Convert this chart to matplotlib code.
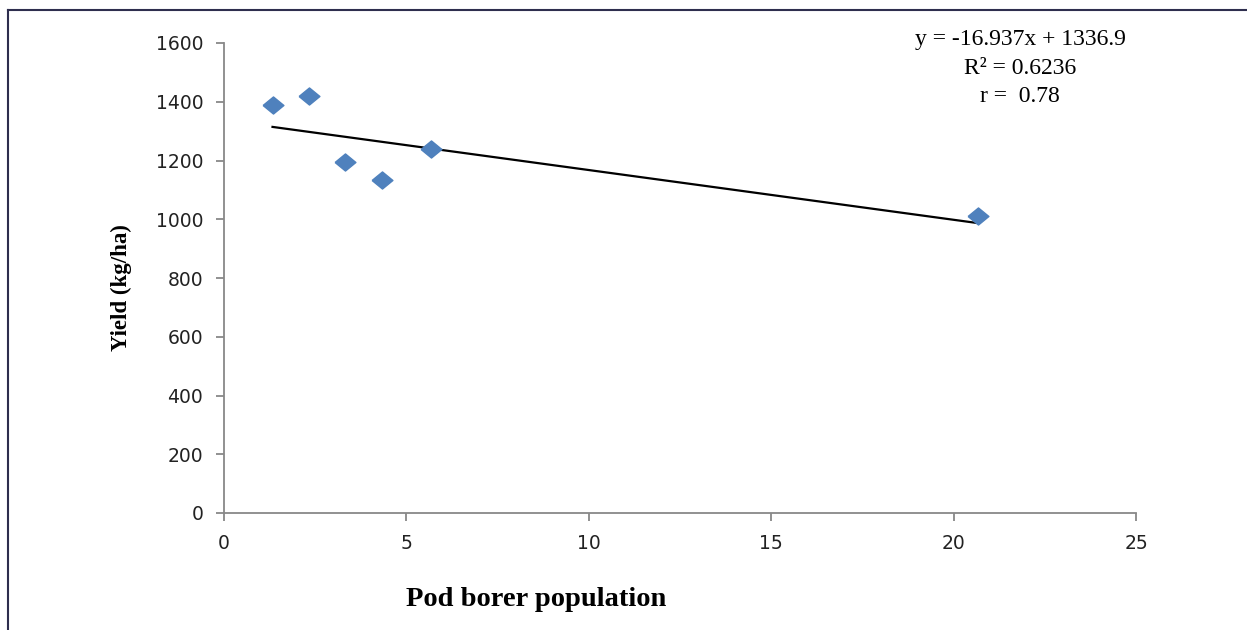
import matplotlib
matplotlib.use("Agg")
import matplotlib.pyplot as plt
from matplotlib.lines import Line2D
import numpy as np

# Data
pod_borer = [1.33, 2.33, 3.33, 4.33, 5.67, 20.67]
yield_kg_ha = [1390, 1420, 1195, 1135, 1240, 1010]
slope = -16.937
intercept = 1336.9
eq_lines = ["y = -16.937x + 1336.9", "R² = 0.6236", "r =  0.78"]
x_ticks = [0, 5, 10, 15, 20, 25]
y_ticks = [0, 200, 400, 600, 800, 1000, 1200, 1400, 1600]

fig = plt.figure(figsize=(12.47, 6.30), dpi=100)
ax = fig.add_axes([224/1247, 1 - 513/630, (1136 - 224)/1247, (513 - 43)/630])

diamond = [(-1, 0), (0, 0.82), (1, 0), (0, -0.82), (-1, 0)]
ax.plot(pod_borer, yield_kg_ha, linestyle="none", marker=diamond,
        markersize=15, color="#4F81BD", markeredgecolor="#4F81BD", zorder=3)

xs = np.array([min(pod_borer), max(pod_borer)])
ax.plot(xs, slope * xs + intercept, color="black", linewidth=1.6, zorder=2)

ax.set_xlim(0, 25)
ax.set_ylim(0, 1600)
ax.set_xticks(x_ticks)
ax.set_yticks(y_ticks)
for s in ["top", "right"]:
    ax.spines[s].set_visible(False)
for s in ["left", "bottom"]:
    ax.spines[s].set_color("#888888")
    ax.spines[s].set_linewidth(1.3)
ax.tick_params(axis="both", colors="#888888", length=6, width=1.3,
               labelcolor="#222222", labelsize=13.5)
ax.tick_params(axis="y", pad=9)
ax.tick_params(axis="x", pad=9)
for lbl in ax.get_xticklabels() + ax.get_yticklabels():
    lbl.set_family("DejaVu Sans")

fig.text(536/1247, 1 - 600/630, "Pod borer population", ha="center", va="center",
         family="Liberation Serif", fontweight="bold", fontsize=20.5)
fig.text(121/1247, 1 - 288/630, "Yield (kg/ha)", ha="center", va="center",
         rotation=90, family="Liberation Serif", fontweight="bold", fontsize=16.5)

centers_y = [40, 68, 96]
for txt, cy in zip(eq_lines, centers_y):
    fig.text(1020/1247, 1 - cy/630, txt, ha="center", va="center",
             family="Liberation Serif", fontsize=17, color="black")

# outer frame lines
fig.add_artist(Line2D([8/1247, 8/1247], [0, 1 - 10/630], transform=fig.transFigure,
                      color="#2e2e4e", linewidth=1.5))
fig.add_artist(Line2D([8/1247, 1], [1 - 10/630, 1 - 10/630], transform=fig.transFigure,
                      color="#2e2e4e", linewidth=1.5))

fig.savefig("out.png", dpi=100)
